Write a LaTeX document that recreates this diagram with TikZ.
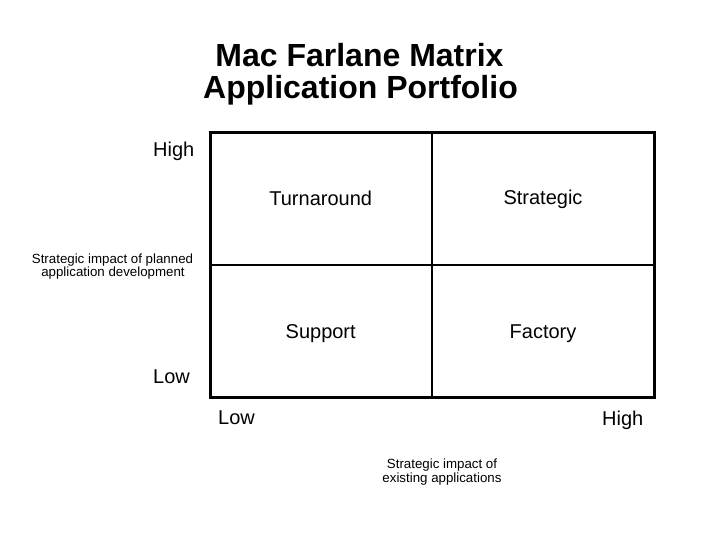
\documentclass[tikz,border=0pt]{standalone}
\usepackage{fontspec}
\setmainfont{Liberation Sans}
\begin{document}
\begin{tikzpicture}[x=1pt,y=-1pt,
  lbl/.style={inner sep=0pt,anchor=base,font=\fontsize{20}{24}\selectfont},
  small/.style={inner sep=0pt,anchor=base,font=\fontsize{13.3}{15}\selectfont},
  ttl/.style={inner sep=0pt,anchor=base,font=\bfseries\fontsize{32}{34}\selectfont},
  outer/.style={line width=3pt},
  inner/.style={line width=2pt}]
\useasboundingbox (0,0) rectangle (720,540);
% title
\node[ttl] (t1) at (359.5,66.5) {Mac Farlane Matrix};
\node[ttl] (t2) at (360.5,98.3) {Application Portfolio};
% grid
\coordinate (tl) at (210,133);
\coordinate (br) at (654,397);
\coordinate (mt) at (432,133);
\coordinate (mb) at (432,397);
\coordinate (ml) at (210,265);
\coordinate (mr) at (654,265);
\draw[inner] (mt) -- (mb);
\draw[inner] (ml) -- (mr);
\draw[outer] (tl) rectangle (br);
% quadrant labels
\node[lbl] (q1) at (320.7,206) {Turnaround};
\node[lbl] (q2) at (543,205) {Strategic};
\node[lbl] (q3) at (320.7,338.3) {Support};
\node[lbl] (q4) at (543,338.3) {Factory};
% axis labels
\node[lbl,anchor=base west] (yh) at (153,156.7) {High};
\node[lbl,anchor=base west] (yl) at (153,383) {Low};
\node[lbl,anchor=base west] (xl) at (218,424.7) {Low};
\node[lbl,anchor=base east] (xh) at (643.5,425) {High};
\node[small] (ya1) at (112.5,263.3) {Strategic impact of planned};
\node[small] (ya2) at (113,276.8) {application development};
\node[small] (xa1) at (442,468.3) {Strategic impact of};
\node[small] (xa2) at (442,482.7) {existing applications};
\end{tikzpicture}
\end{document}
